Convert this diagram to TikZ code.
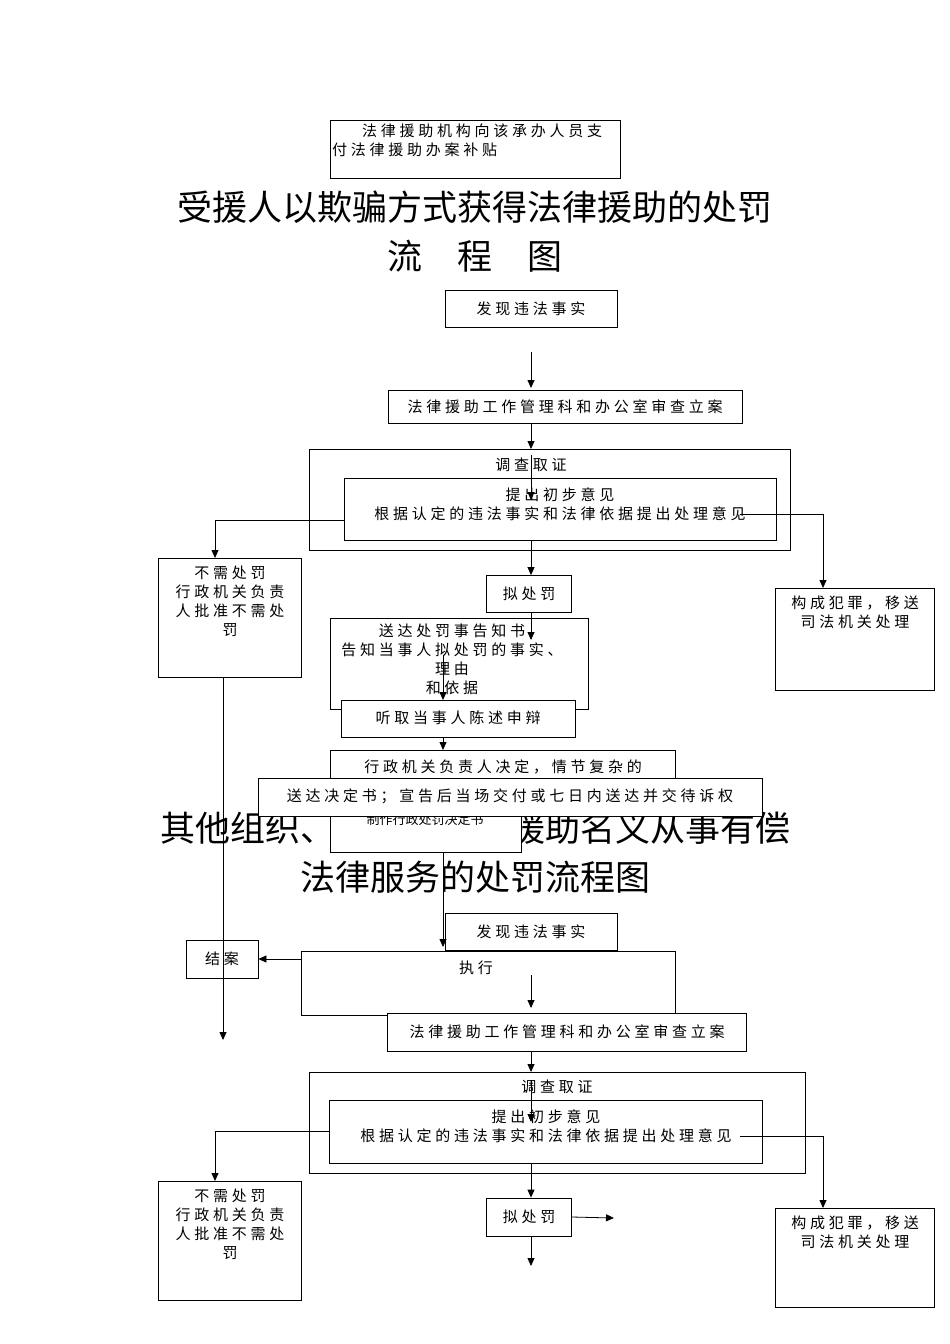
\documentclass[tikz,border=0pt]{standalone}
\usepackage{fontspec}
\setmainfont{Noto Sans CJK SC}
\usetikzlibrary{arrows.meta}
\tikzset{
  box/.style={draw, thick, fill=white, inner sep=0pt},
  txt/.style={font=\fontsize{15}{19}\selectfont\addfontfeature{LetterSpace=25}, align=center, inner sep=0pt},
  ttl/.style={font=\fontsize{35}{40}\selectfont, inner sep=0pt},
  flow/.style={-{Triangle[length=8pt,width=7pt]}, thick},
  wire/.style={thick}
}
\begin{document}
\begin{tikzpicture}[x=1pt, y=-1pt]
    \useasboundingbox (0,0) rectangle (950,1344);

    % upper chart
    \node[box, minimum width=290, minimum height=58, anchor=north west] (pay) at (330,120) {};
    \node[txt, align=left, anchor=north west] (payt) at (332,124) {\hspace{2em}法律援助机构向该承办人员支\\付法律援助办案补贴};
    \node[ttl] (title1) at (475,207) {受援人以欺骗方式获得法律援助的处罚};
    \node[ttl] (title1b) at (475,256) {流\hspace{1em}程\hspace{1em}图};

    \node[box, txt, minimum width=172, minimum height=37] (find) at (531,309) {发现违法事实};
    \coordinate (f0) at (531,352);
    \node[box, txt, minimum width=354, minimum height=33] (file) at (565,407) {法律援助工作管理科和办公室审查立案};
    \node[box, minimum width=481, minimum height=101, anchor=north west] (inv) at (309,449) {};
    \node[txt] (invt) at (531,465) {调查取证};
    \node[box, txt, minimum width=432, minimum height=62, anchor=north west] (prop) at (344,478) {};
    \node[txt] (propt) at (560,504) {提出初步意见\\根据认定的违法事实和法律依据提出处理意见};
    \node[box, txt, minimum width=85, minimum height=37] (pen) at (529,594) {拟处罚};
    \node[box, minimum width=143, minimum height=119, anchor=north west] (nop) at (158,558) {};
    \node[txt, anchor=north] (nopt) at (230,566) {不需处罚\\行政机关负责\\人批准不需处\\罚};
    \node[box, minimum width=159, minimum height=102, anchor=north west] (crime) at (775,588) {};
    \node[txt, anchor=north] (crimet) at (855,596) {构成犯罪，移送\\司法机关处理};
    \node[box, minimum width=258, minimum height=91, anchor=north west] (notice) at (330,618) {};
    \node[txt, anchor=north] (noticet) at (452,624) {送达处罚事告知书\\告知当事人拟处罚的事实、\\理由\\和依据};
    \node[box, minimum width=234, minimum height=37, anchor=north west] (hear) at (341,700) {};
    \node[txt] (heart) at (458,718) {听取当事人陈述申辩};

    % second title, partly covered
    \node[ttl] (title2) at (475,828) {其他组织、个人以法律援助名义从事有偿};
    \node[ttl] (title2b) at (475,877) {法律服务的处罚流程图};
    \node[box, minimum width=345, minimum height=60, anchor=north west] (dec) at (330,750) {};
    \node[txt] (dect) at (503,767) {行政机关负责人决定，情节复杂的};
    \node[box, minimum width=191, minimum height=40, anchor=north west] (make) at (330,812) {};
    \node[txt, font=\fontsize{13}{15}\selectfont] (maket) at (425,820) {制作行政处罚决定书};
    \node[box, minimum width=504, minimum height=38, anchor=north west] (serve) at (258,778) {};
    \node[txt] (servet) at (510,796) {送达决定书；宣告后当场交付或七日内送达并交待诉权};

    % lower chart
    \node[box, txt, minimum width=172, minimum height=37] (find2) at (531,932) {发现违法事实};
    \node[box, minimum width=374, minimum height=64, anchor=north west] (exec) at (301,951) {};
    \node[txt] (exect) at (476,968) {执行};
    \node[box, txt, minimum width=72, minimum height=38] (close) at (222,959) {结案};
    \node[box, txt, minimum width=359, minimum height=38] (file2) at (567,1032) {法律援助工作管理科和办公室审查立案};
    \node[box, minimum width=496, minimum height=101, anchor=north west] (inv2) at (309,1072) {};
    \node[txt] (inv2t) at (557,1087) {调查取证};
    \node[box, minimum width=433, minimum height=63, anchor=north west] (prop2) at (329,1100) {};
    \node[txt] (prop2t) at (546,1126) {提出初步意见\\根据认定的违法事实和法律依据提出处理意见};
    \node[box, txt, minimum width=85, minimum height=38] (pen2) at (529,1217) {拟处罚};
    \node[box, minimum width=143, minimum height=119, anchor=north west] (nop2) at (158,1181) {};
    \node[txt, anchor=north] (nop2t) at (230,1189) {不需处罚\\行政机关负责\\人批准不需处\\罚};
    \node[box, minimum width=159, minimum height=99, anchor=north west] (crime2) at (775,1208) {};
    \node[txt, anchor=north] (crime2t) at (855,1216) {构成犯罪，移送\\司法机关处理};

    % connectors, upper chart
    \draw[flow] (f0) -- (531,388);
    \draw[flow] (file.south -| f0) -- (inv.north -| f0);
    \draw[flow] (531,455) -- (531,500);
    \draw[flow] (prop.west |- propt.south) -| (nop.north -| 215,0);
    \draw[flow] (740,514) -| (crime.north -| 823,0);
    \draw[flow] (prop.south -| f0) -- (pen.north -| f0);
    \draw[flow] (pen.south -| f0) -- (531,640);
    \draw[flow] (443,655) -- (hear.north -| 443,0);
    \draw[flow] (hear.south -| 443,0) -- (dec.north -| 443,0);
    \coordinate (endl) at (223,1040);
    \draw[flow] (nop.south -| endl) -- (endl);
    \draw[flow] (make.south -| 443,0) -- (443,947);

    % connectors, lower chart
    \draw[flow] (exec.west |- close) -- (close.east);
    \draw[flow] (531,975) -- (531,1008);
    \draw[flow] (file2.south -| f0) -- (inv2.north -| f0);
    \draw[flow] (531,1080) -- (531,1122);
    \draw[flow] (329,1131) -| (nop2.north -| 215,0);
    \draw[flow] (740,1136) -| (crime2.north -| 823,0);
    \draw[flow] (prop2.south -| f0) -- (pen2.north -| f0);
    \coordinate (pr) at (614,1218);
    \draw[flow] (pen2.east) -- (pr);
    \coordinate (pd) at (531,1266);
    \draw[flow] (pen2.south -| f0) -- (pd);
\end{tikzpicture}
\end{document}
